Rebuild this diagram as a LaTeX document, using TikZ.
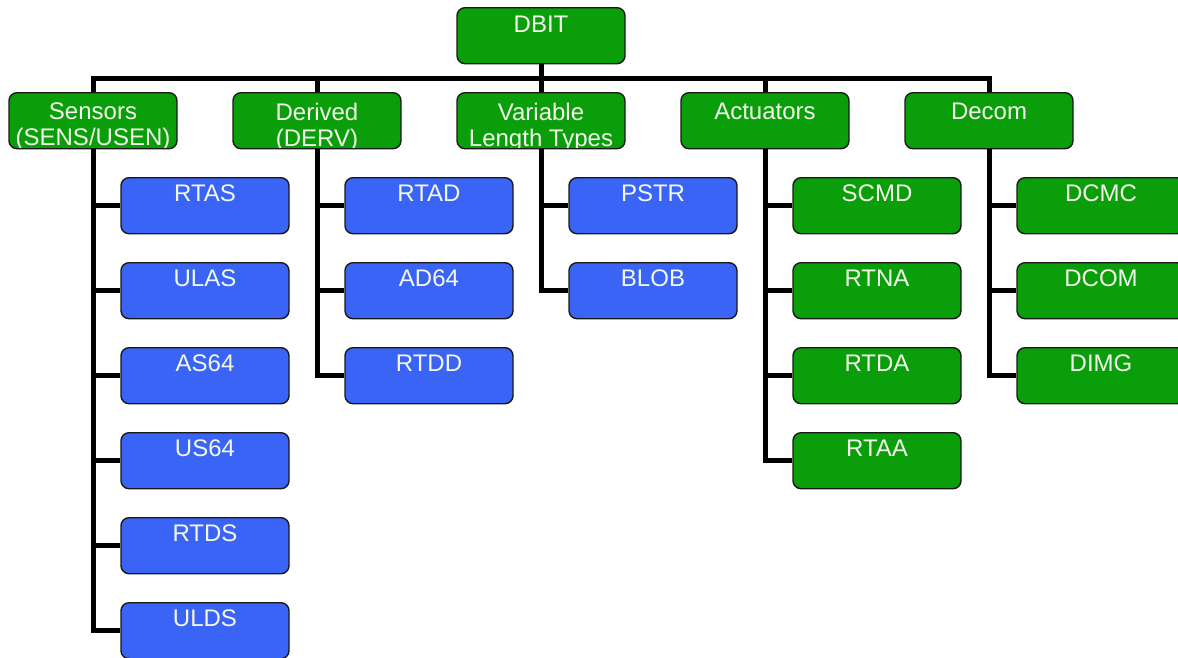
\documentclass[tikz,border=0pt]{standalone}
\usepackage{fontspec}
\setmainfont{Liberation Sans}
\definecolor{boxgreen}{RGB}{10,158,10}
\definecolor{boxblue}{RGB}{58,100,245}
\definecolor{boxtext}{RGB}{244,248,236}
\tikzset{
  box/.style={draw=black!90, line width=1.4pt, rounded corners=8pt,
    minimum width=168pt, minimum height=56pt, inner sep=0pt, anchor=north},
  boxlabel/.style={anchor=north, inner sep=0pt, outer sep=0pt, align=center,
    minimum width=0pt, minimum height=0pt, draw=none, fill=none,
    text=boxtext, font=\fontsize{24}{25.5}\selectfont},
  wire/.style={line width=5pt, line join=miter, draw=black}
}
% #1 name, #2 fill, #3 centre x, #4 top y, #5 drop of the text, #6 text
\newcommand\treebox[6]{%
  \node[box, fill=#2, path picture={%
      \node[boxlabel] (#1-text) at ([yshift=-#5]path picture bounding box.north) {#6};}]
    (#1) at (#3,#4) {};}
\begin{document}
\begin{tikzpicture}[x=1pt,y=-1pt]
\useasboundingbox (0,0) rectangle (1178,657);
\coordinate (busline) at (0,78);

% root
\treebox{dbit}{boxgreen}{541}{7}{8pt}{DBIT}

% first level
\treebox{sens}{boxgreen}{93}{92}{10.5pt}{Sensors\\(SENS/USEN)}
\treebox{derv}{boxgreen}{317}{92}{10.5pt}{Derived\\(DERV)}
\treebox{var}{boxgreen}{541}{92}{10.5pt}{Variable\\Length Types}
\treebox{act}{boxgreen}{765}{92}{10.5pt}{Actuators}
\treebox{decom}{boxgreen}{989}{92}{10.5pt}{Decom}

% sensors
\treebox{rtas}{boxblue}{205}{177}{7pt}{RTAS}
\treebox{ulas}{boxblue}{205}{262}{7pt}{ULAS}
\treebox{as64}{boxblue}{205}{347}{7pt}{AS64}
\treebox{us64}{boxblue}{205}{432}{7pt}{US64}
\treebox{rtds}{boxblue}{205}{517}{7pt}{RTDS}
\treebox{ulds}{boxblue}{205}{602}{7pt}{ULDS}

% derived
\treebox{rtad}{boxblue}{429}{177}{7pt}{RTAD}
\treebox{ad64}{boxblue}{429}{262}{7pt}{AD64}
\treebox{rtdd}{boxblue}{429}{347}{7pt}{RTDD}

% variable length types
\treebox{pstr}{boxblue}{653}{177}{7pt}{PSTR}
\treebox{blob}{boxblue}{653}{262}{7pt}{BLOB}

% actuators
\treebox{scmd}{boxgreen}{877}{177}{7pt}{SCMD}
\treebox{rtna}{boxgreen}{877}{262}{7pt}{RTNA}
\treebox{rtda}{boxgreen}{877}{347}{7pt}{RTDA}
\treebox{rtaa}{boxgreen}{877}{432}{7pt}{RTAA}

% decom
\treebox{dcmc}{boxgreen}{1101}{177}{7pt}{DCMC}
\treebox{dcom}{boxgreen}{1101}{262}{7pt}{DCOM}
\treebox{dimg}{boxgreen}{1101}{347}{7pt}{DIMG}

% bus below the root
\draw[wire] (dbit.south) -- (dbit.south |- busline);
\draw[wire] (sens.north) -- (sens.north |- busline) -- (decom.north |- busline) -- (decom.north);
\foreach \n in {derv,var,act}
  \draw[wire] (\n.north) -- (\n.north |- busline);

% trunks and branches
\draw[wire] (sens.south) |- (ulds.west);
\foreach \c in {rtas,ulas,as64,us64,rtds}
  \draw[wire] (sens.south |- \c.west) -- (\c.west);
\draw[wire] (derv.south) |- (rtdd.west);
\foreach \c in {rtad,ad64}
  \draw[wire] (derv.south |- \c.west) -- (\c.west);
\draw[wire] (var.south) |- (blob.west);
\draw[wire] (var.south |- pstr.west) -- (pstr.west);
\draw[wire] (act.south) |- (rtaa.west);
\foreach \c in {scmd,rtna,rtda}
  \draw[wire] (act.south |- \c.west) -- (\c.west);
\draw[wire] (decom.south) |- (dimg.west);
\foreach \c in {dcmc,dcom}
  \draw[wire] (decom.south |- \c.west) -- (\c.west);
\end{tikzpicture}
\end{document}
